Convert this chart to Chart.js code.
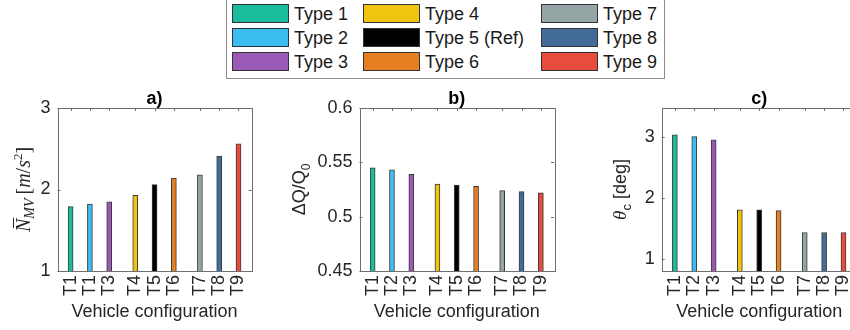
<!DOCTYPE html>
<html>
<head>
<meta charset="utf-8">
<script src="https://cdn.jsdelivr.net/npm/chart.js@4.4.1/dist/chart.umd.min.js"></script>
<style>
  html, body { margin: 0; padding: 0; background: #fff; overflow: hidden; }
  body { width: 850px; height: 330px; position: relative; font-family: "Liberation Sans", Arial, sans-serif; }
  canvas { position: absolute; top: 80px; }
  #legend { position: absolute; left: 226px; top: -1px; width: 437px; height: 78px; border: 1px solid #8c8c8c; background: #fff; }
  .item { position: absolute; height: 19px; }
  .sw { position: absolute; left: 0; top: 0; width: 55px; height: 17px; border: 1px solid #333; }
  .lb { position: absolute; left: 62px; top: -2px; font-size: 18px; line-height: 24px; color: #1a1a1a; white-space: nowrap; }
</style>
</head>
<body>
<div id="legend"></div>
<canvas id="cA" width="265" height="250" style="left:0px"></canvas>
<canvas id="cB" width="290" height="250" style="left:280px"></canvas>
<canvas id="cC" width="300" height="250" style="left:570px"></canvas>
<script>
// vehicle types
const types = ['Type 1', 'Type 2', 'Type 3', 'Type 4', 'Type 5 (Ref)', 'Type 6', 'Type 7', 'Type 8', 'Type 9'];
const colors = ['#1abc9c', '#3bbdf2', '#9b59b6', '#f1c40f', '#000000', '#e67e22', '#95a5a6', '#436c98', '#e74c3c'];

// tick labels (panel a has T1 twice in the original)
const labelsA = ['T1', 'T1', 'T3', 'T4', 'T5', 'T6', 'T7', 'T8', 'T9'];
const labelsBC = ['T1', 'T2', 'T3', 'T4', 'T5', 'T6', 'T7', 'T8', 'T9'];

// values
const nmv = [1.79, 1.82, 1.85, 1.93, 2.06, 2.14, 2.18, 2.41, 2.56];
const dq = [0.545, 0.543, 0.539, 0.530, 0.529, 0.528, 0.524, 0.523, 0.522];
const theta = [3.03, 3.00, 2.95, 1.80, 1.80, 1.79, 1.43, 1.43, 1.43];

const yTicksA = [1, 2, 3];
const yTicksB = [0.45, 0.5, 0.55, 0.6];
const yTicksC = [1, 2, 3];

// bars come in groups of three with a small gap between groups
const groupGap = 0.35;
const xs = types.map((t, i) => i + 1 + groupGap * Math.floor(i / 3));

const FONT = '"Liberation Sans", Arial, sans-serif';
const SERIF = '"Liberation Serif", "Times New Roman", serif';
const TXT = '#262626';

// legend, filled column by column
const legend = document.getElementById('legend');
const colX = [5, 136, 314];
const rowY = [4, 28, 52];
types.forEach((t, i) => {
  const d = document.createElement('div');
  d.className = 'item';
  d.style.left = colX[Math.floor(i / 3)] + 'px';
  d.style.top = rowY[i % 3] + 'px';
  d.innerHTML = '<div class="sw" style="background:' + colors[i] + '"></div><div class="lb">' + t + '</div>';
  legend.appendChild(d);
});

// axes box with inward ticks, like the matlab figure
const frame = {
  id: 'frame',
  afterDatasetsDraw(chart) {
    const {ctx, chartArea: a, scales: {x, y}} = chart;
    ctx.save();
    ctx.strokeStyle = '#6e6e6e';
    ctx.lineWidth = 1;
    ctx.beginPath();
    x.ticks.forEach(t => {
      const px = Math.round(x.getPixelForValue(t.value)) + 0.5;
      ctx.moveTo(px, a.top); ctx.lineTo(px, a.top + 3);
    });
    y.ticks.forEach(t => {
      const py = Math.round(y.getPixelForValue(t.value)) + 0.5;
      ctx.moveTo(a.left, py); ctx.lineTo(a.left + 3, py);
      ctx.moveTo(a.right, py); ctx.lineTo(a.right - 3, py);
    });
    ctx.stroke();
    ctx.strokeRect(Math.round(a.left) + 0.5, Math.round(a.top) + 0.5, Math.round(a.width), Math.round(a.height));
    ctx.restore();
  }
};

// y titles with sub/superscripts, kept outside chart options
const yTitles = {
  cA: {x: 24, pieces: [
    {t: 'N', font: 'italic 20px ' + SERIF, bar: true},
    {t: 'MV', font: 'italic 14px ' + SERIF, shift: 4, gap: 4},
    {t: '[', font: '20px ' + SERIF},
    {t: 'm', font: 'italic 20px ' + SERIF},
    {t: '/', font: '20px ' + SERIF},
    {t: 's', font: 'italic 20px ' + SERIF},
    {t: '2', font: '13px ' + SERIF, shift: -8},
    {t: ']', font: '20px ' + SERIF}
  ]},
  cB: {x: 19, pieces: [
    {t: '\u0394Q/Q', font: '18px ' + FONT},
    {t: '0', font: '12px ' + FONT, shift: 5}
  ]},
  cC: {x: 50, pieces: [
    {t: '\u03b8', font: 'italic 19px ' + SERIF},
    {t: 'c', font: '13px ' + FONT, shift: 5},
    {t: ' [deg]', font: '18px ' + FONT}
  ]}
};

const richTitle = {
  id: 'richTitle',
  afterDraw(chart) {
    const spec = yTitles[chart.canvas.id];
    if (!spec) return;
    const {ctx, chartArea: a} = chart;
    ctx.save();
    ctx.translate(spec.x, (a.top + a.bottom) / 2);
    ctx.rotate(-Math.PI / 2);
    ctx.fillStyle = TXT;
    ctx.strokeStyle = TXT;
    ctx.textAlign = 'left';
    ctx.textBaseline = 'alphabetic';
    const widths = spec.pieces.map(p => { ctx.font = p.font; return ctx.measureText(p.t).width + (p.gap || 0); });
    let cx = -widths.reduce((s, w) => s + w, 0) / 2;
    spec.pieces.forEach((p, i) => {
      ctx.font = p.font;
      ctx.fillText(p.t, cx, 6 + (p.shift || 0));
      if (p.bar) {
        ctx.lineWidth = 1;
        ctx.beginPath();
        ctx.moveTo(cx + 4, -10.5);
        ctx.lineTo(cx + widths[i] + 1, -10.5);
        ctx.stroke();
      }
      cx += widths[i];
    });
    ctx.restore();
  }
};

function makeChart(id, labels, values, yTicks, yMin, yMax, title, yWidth, padRight) {
  return new Chart(document.getElementById(id), {
    type: 'bar',
    data: {
      datasets: [{
        data: values.map((v, i) => ({x: xs[i], y: v})),
        backgroundColor: colors,
        borderColor: '#3a3a3a',
        borderWidth: 1,
        barThickness: 5
      }]
    },
    options: {
      responsive: false,
      animation: false,
      layout: {autoPadding: false, padding: {left: 0, right: padRight, top: 0, bottom: 0}},
      plugins: {
        legend: {display: false},
        tooltip: {enabled: false},
        title: {
          display: true, text: title, fullSize: false, color: '#000',
          font: {family: FONT, size: 18, weight: 'bold', lineHeight: 1},
          padding: {top: 10, bottom: 0}
        }
      },
      scales: {
        x: {
          type: 'linear',
          offset: false,
          min: 0.32, max: 10.38,
          grid: {display: false, drawTicks: false, tickLength: 0},
          border: {display: false},
          afterBuildTicks: s => { s.ticks = xs.map(v => ({value: v})); },
          afterFit: s => { s.height = 59; },
          ticks: {
            autoSkip: false, minRotation: 90, maxRotation: 90, padding: 4,
            color: TXT, font: {family: FONT, size: 18},
            callback: (v, i) => labels[i]
          },
          title: {
            display: true, text: 'Vehicle configuration', color: TXT,
            font: {family: FONT, size: 18, lineHeight: 1.2},
            padding: {top: 0, bottom: 7}
          }
        },
        y: {
          min: yMin, max: yMax,
          grid: {display: false, drawTicks: false, tickLength: 0},
          border: {display: false},
          afterBuildTicks: s => { s.ticks = yTicks.map(v => ({value: v})); },
          afterFit: s => { s.width = yWidth; },
          ticks: {
            padding: 7, color: TXT, font: {family: FONT, size: 18},
            callback: v => String(+v.toFixed(2))
          }
        }
      }
    },
    plugins: [frame, richTitle]
  });
}

makeChart('cA', labelsA, nmv, yTicksA, 1, 3, 'a)', 57.5, 12.5);
makeChart('cB', labelsBC, dq, yTicksB, 0.45, 0.6, 'b)', 79.5, 16);
makeChart('cC', labelsBC, theta, yTicksC, 0.8, 3.47, 'c)', 91.7, 13.3);
</script>
</body>
</html>
